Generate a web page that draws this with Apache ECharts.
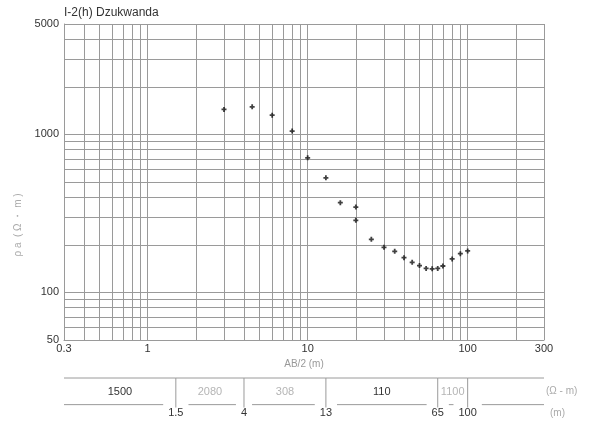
<!DOCTYPE html>
<html>
<head>
<meta charset="utf-8">
<script src="https://cdn.jsdelivr.net/npm/echarts@6/dist/echarts.min.js"></script>
<style>
  html, body { margin: 0; padding: 0; background: #fff; }
  #chart { width: 595px; height: 423px; }
</style>
</head>
<body>
<div id="chart"></div>
<script>
// Sounding curve: half electrode spacing AB/2 (m) and apparent resistivity (ohm-m)
const spacing = [3, 4.5, 6, 8, 10, 13, 16, 20, 20, 25, 30, 35, 40, 45, 50, 55, 60, 65, 70, 80, 90, 100];
const rhoApparent = [1440, 1495, 1325, 1050, 711, 531, 370, 347, 286, 217, 193, 182, 166, 155, 148, 142, 141, 142, 147, 163, 176, 183];

// Axis ranges and intermediate log grid lines
const xRange = [0.3, 300];
const yRange = [50, 5000];
const xGrid = [0.4, 0.5, 0.6, 0.7, 0.8, 0.9, 2, 3, 4, 5, 6, 7, 8, 9, 20, 30, 40, 50, 60, 70, 80, 90, 200];
const yGrid = [60, 70, 80, 90, 200, 300, 400, 500, 600, 700, 800, 900, 2000, 3000, 4000];

// Interpreted layer model: boundary depths (m) and layer resistivities (ohm-m)
const layerDepths = [1.5, 4, 13, 65, 100];
const layerRho = [1500, 2080, 308, 110, 1100, null];
const layerResolved = [true, false, false, true, false, false];

const FONT = '"Liberation Sans", Arial, sans-serif';
const GRID_COLOR = '#9a9a9a';

const fmt = v => String(+(+v).toPrecision(6));

const layerBounds = [xRange[0]].concat(layerDepths, [xRange[1]]);
const layerData = layerRho.map((r, i) => [layerBounds[i], layerBounds[i + 1], r == null ? -1 : r, layerResolved[i] ? 1 : 0]);

const chart = echarts.init(document.getElementById('chart'), null, { renderer: 'canvas' });

chart.setOption({
  animation: false,
  backgroundColor: '#fff',
  title: {
    text: 'I-2(h) Dzukwanda',
    left: 59, top: 2,
    textStyle: { fontFamily: FONT, fontSize: 12, fontWeight: 'normal', color: '#333' }
  },
  grid: [
    { left: 64, top: 24, width: 480, height: 316 },
    { left: 64, top: 378, width: 480, height: 36 }
  ],
  xAxis: [
    {
      gridIndex: 0, type: 'log', logBase: 10, min: xRange[0], max: xRange[1],
      name: 'AB/2 (m)', nameLocation: 'middle', nameGap: 14,
      nameTextStyle: { fontFamily: FONT, fontSize: 10, color: '#999' },
      axisLine: { show: true, onZero: false, lineStyle: { color: GRID_COLOR, width: 1 } },
      axisTick: { show: false },
      axisLabel: { margin: 3, fontFamily: FONT, fontSize: 11, color: '#333', formatter: fmt },
      splitLine: { show: true, lineStyle: { color: GRID_COLOR, width: 1 } }
    },
    {
      gridIndex: 1, type: 'log', logBase: 10, min: xRange[0], max: xRange[1],
      show: false
    }
  ],
  yAxis: [
    {
      gridIndex: 0, type: 'log', logBase: 10, min: yRange[0], max: yRange[1],
      axisLine: { show: true, lineStyle: { color: GRID_COLOR, width: 1 } },
      axisTick: { show: false },
      axisLabel: { margin: 5, fontFamily: FONT, fontSize: 11, color: '#333', formatter: fmt },
      splitLine: { show: true, lineStyle: { color: GRID_COLOR, width: 1 } }
    },
    {
      gridIndex: 1, type: 'value', min: 0, max: 1, inverse: true, show: false
    }
  ],
  series: [
    {
      name: 'grid',
      type: 'scatter',
      xAxisIndex: 0, yAxisIndex: 0,
      data: [],
      silent: true,
      markLine: {
        silent: true,
        symbol: ['none', 'none'],
        label: { show: false },
        lineStyle: { color: GRID_COLOR, width: 1, type: 'solid' },
        data: xGrid.map(v => ({ xAxis: v })).concat(yGrid.map(v => ({ yAxis: v })))
      }
    },
    {
      name: 'ρa',
      type: 'scatter',
      xAxisIndex: 0, yAxisIndex: 0,
      symbol: 'path://M1.6,0h1.8v1.6h1.6v1.8h-1.6v1.6h-1.8v-1.6h-1.6v-1.8h1.6z',
      symbolSize: 5,
      itemStyle: { color: '#111' },
      data: spacing.map((x, i) => [x, rhoApparent[i]]),
      z: 5
    },
    {
      name: 'layers',
      type: 'custom',
      xAxisIndex: 1, yAxisIndex: 1,
      silent: true,
      data: layerData,
      renderItem: function (params, api) {
        const x0 = api.value(0), x1 = api.value(1);
        const rho = api.value(2);
        const resolved = api.value(3) === 1;
        const a = api.coord([x0, 0]), b = api.coord([x1, 0]);
        const la = api.coord([x0, 0.74]), lb = api.coord([x1, 0.74]);
        const mid = api.coord([Math.sqrt(x0 * x1), 0.39]);
        const lineStyle = { stroke: GRID_COLOR, lineWidth: 1 };
        const children = [
          { type: 'line', shape: { x1: a[0], y1: a[1], x2: b[0], y2: b[1] }, style: lineStyle },
          { type: 'line', shape: { x1: la[0], y1: la[1], x2: lb[0], y2: lb[1] }, style: lineStyle }
        ];
        if (rho > 0) {
          children.push({
            type: 'text',
            style: {
              text: String(rho), x: mid[0], y: mid[1],
              align: 'center', verticalAlign: 'middle',
              font: '11px ' + FONT,
              fill: resolved ? '#333' : '#b5b5b5'
            }
          });
        }
        return { type: 'group', children: children };
      }
    },
    {
      name: 'boundaries',
      type: 'custom',
      xAxisIndex: 1, yAxisIndex: 1,
      silent: true,
      z: 3,
      data: layerDepths.map(d => [d]),
      renderItem: function (params, api) {
        const d = api.value(0);
        const top = api.coord([d, 0]);
        const bot = api.coord([d, 0.82]);
        const lab = api.coord([d, 0.97]);
        return {
          type: 'group',
          children: [
            {
              type: 'text',
              style: {
                text: fmt(d), x: lab[0], y: lab[1],
                align: 'center', verticalAlign: 'middle',
                font: '11px ' + FONT, fill: '#333',
                backgroundColor: '#fff', padding: [9, 5, 1, 5]
              }
            },
            {
              type: 'line',
              shape: { x1: top[0], y1: top[1], x2: bot[0], y2: bot[1] },
              style: { stroke: GRID_COLOR, lineWidth: 1 }
            }
          ]
        };
      }
    }
  ],
  graphic: [
    {
      type: 'text', x: 18, y: 225, rotation: Math.PI / 2,
      style: { text: 'ρ a  ( Ω ・ m )', font: '10px ' + FONT, fill: '#aaa', align: 'center', verticalAlign: 'middle' }
    },
    { type: 'text', left: 546, top: 386, style: { text: '(Ω - m)', font: '10px ' + FONT, fill: '#aaa' } },
    { type: 'text', left: 550, top: 408, style: { text: '(m)', font: '10px ' + FONT, fill: '#aaa' } }
  ]
});
</script>
</body>
</html>
